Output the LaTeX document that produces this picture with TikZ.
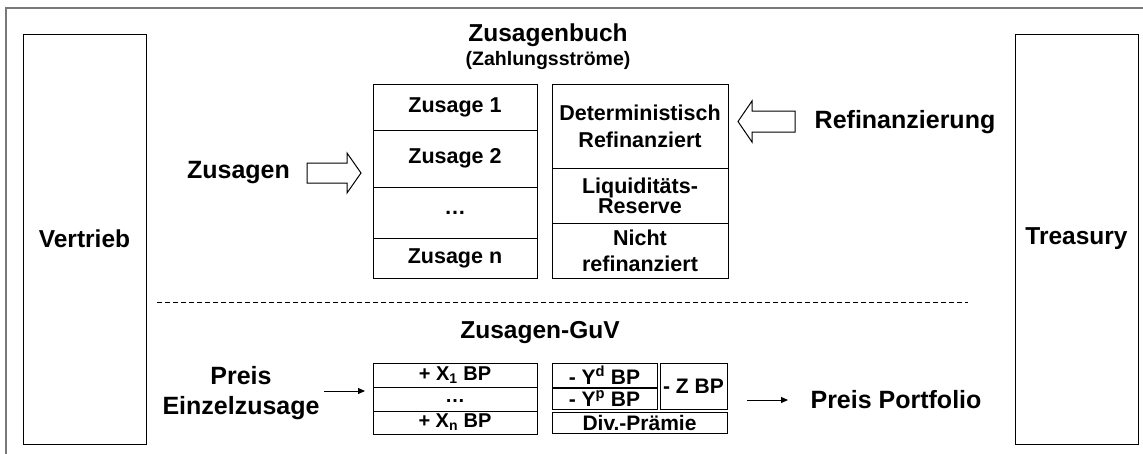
\documentclass[tikz,border=0pt]{standalone}
\usepackage{fontspec}
\setmainfont{Liberation Sans}
\usetikzlibrary{arrows.meta}
\begin{document}
\begin{tikzpicture}[x=1pt,y=-1pt,
  every node/.style={font=\bfseries},
  big/.style={font=\fontsize{25}{30}\selectfont\bfseries},
  cell/.style={draw=black,line width=1pt,inner sep=0pt,align=center,
    font=\fontsize{21.5}{27}\selectfont\bfseries},
  gcell/.style={draw=black,line width=1pt,inner sep=0pt,align=center,
    font=\fontsize{20}{22}\selectfont\bfseries},
  side/.style={draw=black,line width=1pt,inner sep=0pt,minimum width=123,minimum height=410,
    font=\fontsize{24.5}{28}\selectfont\bfseries},
  hollow/.style={draw=black,line width=1pt,fill=white,line join=miter},
  thin/.style={line width=1pt,-{Triangle[length=7pt,width=6pt]}}]
\useasboundingbox (0,0) rectangle (1143,453);
\fill[white] (0,0) rectangle (1143,453);
% outer frame (cut off at right and bottom)
\draw[gray!95!black,line width=1.3pt] (6,460) -- (6,8) -- (1150,8);

% side boxes
\node[side] (vertrieb) at (84.5,239) {Vertrieb};
\node[side] (treasury) at (1076.5,239) {Treasury};

% title
\node[font=\fontsize{24.5}{28}\selectfont\bfseries] (buch) at (548,35) {Zusagenbuch};
\node[font=\fontsize{19.5}{22}\selectfont\bfseries] (zahl) at (548,60) {(Zahlungsströme)};

% left column
\node[cell,minimum width=164,minimum height=46] (z1) at (455,107) {Zusage 1};
\node[cell,minimum width=164,minimum height=57] (z2) at (455,158.5) {Zusage 2};
\node[cell,minimum width=164,minimum height=51] (zd) at (455,212.5) {\raisebox{-4pt}{…}};
\node[cell,minimum width=164,minimum height=40] (zn) at (455,258) {Zusage n};

% right column
\node[cell,minimum width=176,minimum height=84] (det) at (640,126) {Deterministisch\\Refinanziert};
\node[cell,minimum width=176,minimum height=55,font=\fontsize{21.5}{19}\selectfont\bfseries] (liq) at (640,195.5) {\raisebox{-5pt}{\parbox{170pt}{\centering Liquiditäts-\\Reserve}}};
\node[cell,minimum width=176,minimum height=55,font=\fontsize{21.5}{26}\selectfont\bfseries] (nicht) at (640,250.5) {Nicht\\refinanziert};

% Zusagen hollow arrow
\node[big] (zusagen) at (238.5,173) {Zusagen};
\coordinate (za) at (307,173);
\draw[hollow] (za) ++(0,-10) -- ++(40,0) -- ++(0,-10) -- ++(14,20) -- ++(-14,20) -- ++(0,-10) -- ++(-40,0) -- cycle;

% Refinanzierung hollow arrow
\node[big] (refi) at (905,122) {Refinanzierung};
\coordinate (ra) at (795,121.5);
\draw[hollow] (ra) ++(0,-10.5) -- ++(-43,0) -- ++(0,-10) -- ++(-14,20.5) -- ++(14,20.5) -- ++(0,-10) -- ++(43,0) -- cycle;

% dashed separator
\coordinate (dl) at (157,302);
\coordinate (dr) at (968,302);
\draw[line width=1pt,dash pattern=on 5pt off 3pt] (dl) -- (dr);

% GuV
\node[font=\fontsize{24.5}{28}\selectfont\bfseries] (guv) at (540,333) {Zusagen-GuV};
\node[gcell,minimum width=164,minimum height=24] (x1) at (455,375) {+ X\textsubscript{1} BP};
\node[gcell,minimum width=164,minimum height=24] (xd) at (455,399) {\raisebox{-6pt}{…}};
\node[gcell,minimum width=164,minimum height=23] (xn) at (455,422.5) {+ X\textsubscript{n} BP};

\node[gcell,minimum width=105,minimum height=24,font=\fontsize{21}{22}\selectfont\bfseries] (yd) at (604.5,375) {- Y\textsuperscript{d} BP};
\node[gcell,minimum width=105,minimum height=21,font=\fontsize{21}{22}\selectfont\bfseries] (yp) at (604.5,398.5) {- Y\textsuperscript{p} BP};
\node[gcell,minimum width=67,minimum height=46,font=\fontsize{21}{22}\selectfont\bfseries] (zbp) at (693.5,386) {- Z BP};
\node[gcell,minimum width=175,minimum height=21,font=\fontsize{21}{22}\selectfont\bfseries] (div) at (639.5,422.5) {Div.-Prämie};

% Preis labels and arrows
\node[big,align=center] (preis) at (241,393) {Preis\\Einzelzusage};
\coordinate (pa) at (324,391);
\coordinate (pe) at (365,391);
\draw[thin] (pa) -- (pe);
\node[big] (pport) at (896,400) {Preis Portfolio};
\coordinate (pb) at (747,400);
\coordinate (pc) at (788,400);
\draw[thin] (pb) -- (pc);
\end{tikzpicture}
\end{document}
